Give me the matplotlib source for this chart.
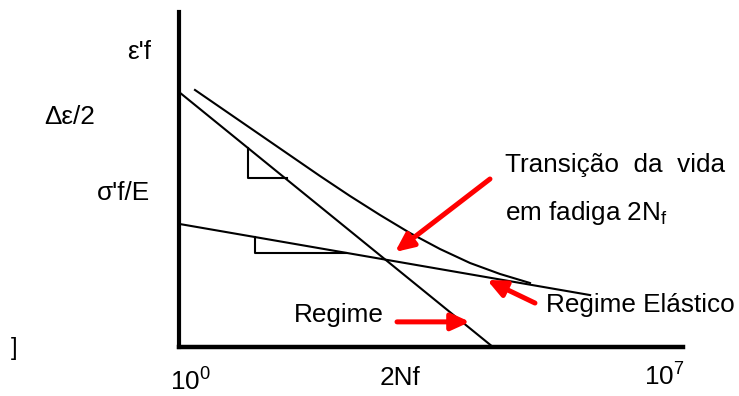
import matplotlib.pyplot as plt
import numpy as np

plt.rcParams['font.family'] = ['Liberation Sans', 'DejaVu Sans']
plt.rcParams['mathtext.default'] = 'regular'

# eixo x: log10(2Nf), eixo y: log10 da amplitude de deformação
logN_plast = [0.0, 4.36]
loge_plast = [-0.955, -4.0]

logN_elast = [0.0, 5.71]
loge_elast = [-2.53, -3.38]

# curva total (soma elástica + plástica), lida ponto a ponto
logN_total = [0.222, 1.958, 2.375, 2.792, 3.208, 3.625, 4.042, 4.458, 4.875]
loge_total = [-0.931, -1.958, -2.197, -2.424, -2.639, -2.830, -2.997, -3.128, -3.236]

# triângulos de inclinação (c e b)
tri_plast_x = [0.958, 0.958, 1.50]
tri_plast_y = [-1.624, -1.982, -1.982]
tri_elast_x = [1.056, 1.056, 2.319]
tri_elast_y = [-2.687, -2.878, -2.878]

# setas (cauda, ponta)
seta_trans = [(4.319, -1.994), (3.0, -2.866)]
seta_elast = [(4.944, -3.475), (4.278, -3.2)]
seta_plast = [(3.028, -3.70), (4.042, -3.70)]

W, H = 739, 396
fig = plt.figure(figsize=(W/100, H/100), dpi=100)
ax = fig.add_axes([179/W, 1-347/H, (683-179)/W, (347-12)/H])
ax.set_xlim(0, 7)
ax.set_ylim(-4, 0)

for s in ['top', 'right']:
    ax.spines[s].set_visible(False)
ax.spines['left'].set_linewidth(3)
ax.spines['bottom'].set_linewidth(3.2)
ax.set_xticks([])
ax.set_yticks([])

lw = 1.5
ax.plot(logN_plast, loge_plast, color='black', lw=lw, clip_on=False)
ax.plot(logN_elast, loge_elast, color='black', lw=lw)
ax.plot(logN_total, loge_total, color='black', lw=lw, solid_joinstyle='round')
ax.plot(tri_plast_x, tri_plast_y, color='black', lw=lw)
ax.plot(tri_elast_x, tri_elast_y, color='black', lw=lw)

for cauda, ponta in [seta_trans, seta_elast, seta_plast]:
    ax.annotate('', xy=ponta, xytext=cauda,
                arrowprops=dict(arrowstyle='-|>,head_length=1.1,head_width=0.5',
                                color='red', lw=3.6, shrinkA=0, shrinkB=0))


def px(x, y):
    return x/W, 1-y/H


fs = 18.8
fig.text(*px(139, 52), "ε'f", fontsize=fs, ha='center', va='center')
fig.text(*px(70, 117), 'Δε/2', fontsize=fs, ha='center', va='center')
fig.text(*px(123, 193), "σ'f/E", fontsize=fs, ha='center', va='center')
fig.text(*px(14, 349), ']', fontsize=fs-2, ha='center', va='center')
fig.text(*px(190, 382), '$10^0$', fontsize=fs, ha='center', va='center')
fig.text(*px(400, 378), '2Nf', fontsize=fs, ha='center', va='center')
fig.text(*px(664, 377), '$10^7$', fontsize=fs, ha='center', va='center')
fig.text(*px(505, 165), 'Transição  da  vida', fontsize=fs, ha='left', va='center')
fig.text(*px(505, 213), 'em fadiga 2N$_f$', fontsize=fs, ha='left', va='center')
fig.text(*px(546, 305), 'Regime Elástico', fontsize=fs, ha='left', va='center')
fig.text(*px(294, 315), 'Regime', fontsize=fs, ha='left', va='center')

fig.savefig('out.png', dpi=100)
